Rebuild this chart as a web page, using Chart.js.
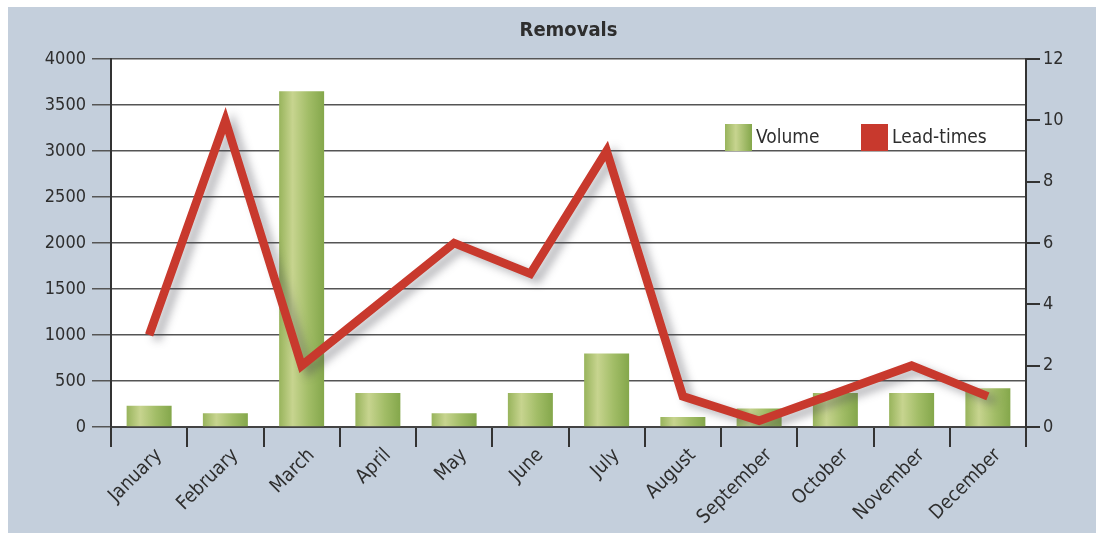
<!DOCTYPE html>
<html>
<head>
<meta charset="utf-8">
<script src="https://cdn.jsdelivr.net/npm/chart.js@4.4.1/dist/chart.umd.min.js"></script>
<style>
  html, body { margin: 0; padding: 0; background: #fff; }
  #wrap { position: absolute; left: 8px; top: 7px; width: 1088px; height: 526px; background: #c4cfdc; }
</style>
</head>
<body>
<div id="wrap"><canvas id="removals" width="1088" height="526"></canvas></div>
<script>
const months = ['January', 'February', 'March', 'April', 'May', 'June', 'July', 'August', 'September', 'October', 'November', 'December'];
const volume = [230, 150, 3650, 370, 150, 370, 800, 110, 200, 370, 370, 420];
const leadTimes = [3, 10, 2, 4, 6, 5, 9, 1, 0.2, 1.1, 2, 1];

const FONT = "'DejaVu Sans Condensed', 'Liberation Sans', sans-serif";
const TXT = '#2e2e2e';
const RED = '#c8392d';

// green cylinder-ish gradient per bar
const barFill = (c) => {
    const chart = c.chart;
    const x = chart.scales.x;
    if (!chart.chartArea || !x || c.dataIndex === undefined) return '#a9c06c';
    const cx = x.getPixelForValue(c.dataIndex);
    const w = x.width / months.length * 0.59;
    const g = chart.ctx.createLinearGradient(cx - w / 2, 0, cx + w / 2, 0);
    g.addColorStop(0, '#98b45c');
    g.addColorStop(0.3, '#c7d48f');
    g.addColorStop(0.65, '#a2bd67');
    g.addColorStop(1, '#84a74b');
    return g;
};

const plotBg = {
    id: 'plotBg',
    beforeDraw(chart) {
        const { ctx, chartArea: a } = chart;
        ctx.save();
        ctx.fillStyle = '#fff';
        ctx.fillRect(a.left, a.top, a.right - a.left, a.bottom - a.top);
        ctx.restore();
    }
};

const lineShadow = {
    id: 'lineShadow',
    beforeDatasetDraw(chart, args) {
        if (args.index !== 1) return;
        const ctx = chart.ctx;
        ctx.save();
        ctx.shadowColor = 'rgba(70,70,80,0.4)';
        ctx.shadowBlur = 8;
        ctx.shadowOffsetX = 7;
        ctx.shadowOffsetY = 5;
    },
    afterDatasetDraw(chart, args) {
        if (args.index !== 1) return;
        chart.ctx.restore();
    }
};

// legend drawn inside the plot, top right
const innerLegend = {
    id: 'innerLegend',
    afterDraw(chart) {
        const { ctx, chartArea: a } = chart;
        const items = [
            { text: chart.data.datasets[0].label, fill: '#a9c06c', x: a.right - 301 },
            { text: chart.data.datasets[1].label, fill: RED, x: a.right - 165 }
        ];
        const y = a.top + 65;
        ctx.save();
        ctx.font = '19px ' + FONT;
        ctx.textBaseline = 'middle';
        items.forEach((it, i) => {
            if (i === 0) {
                const g = ctx.createLinearGradient(it.x, 0, it.x + 27, 0);
                g.addColorStop(0, '#98b45c');
                g.addColorStop(0.4, '#c7d48f');
                g.addColorStop(1, '#84a74b');
                ctx.fillStyle = g;
            } else {
                ctx.fillStyle = it.fill;
            }
            ctx.fillRect(it.x, y, 27, 27);
            ctx.fillStyle = TXT;
            ctx.fillText(it.text, it.x + 31, y + 14);
        });
        ctx.restore();
    }
};

new Chart(document.getElementById('removals'), {
    data: {
        labels: months,
        datasets: [
            {
                type: 'bar',
                label: 'Volume',
                data: volume,
                yAxisID: 'y',
                backgroundColor: barFill,
                barPercentage: 0.59,
                categoryPercentage: 1,
                order: 2
            },
            {
                type: 'line',
                label: 'Lead-times',
                data: leadTimes,
                yAxisID: 'y1',
                borderColor: RED,
                borderWidth: 8.5,
                pointRadius: 0,
                tension: 0,
                borderJoinStyle: 'miter',
                order: 1
            }
        ]
    },
    options: {
        responsive: false,
        animation: false,
        layout: { padding: { left: 33, right: 0, top: 0, bottom: 0 } },
        plugins: {
            legend: { display: false },
            tooltip: { enabled: false },
            title: {
                display: true,
                text: 'Removals',
                color: TXT,
                font: { family: FONT, size: 20, weight: 'bold' },
                padding: { top: 12, bottom: 16 }
            }
        },
        scales: {
            x: {
                grid: { offset: true, drawOnChartArea: false, tickLength: 20, color: '#333', lineWidth: 2 },
                border: { color: '#444', width: 2 },
                ticks: {
                    color: TXT,
                    font: { family: FONT, size: 19.5 },
                    minRotation: 45,
                    maxRotation: 45,
                    labelOffset: 10,
                    padding: -3,
                    autoSkip: false
                },
                afterFit(s) { s.height = 106; }
            },
            y: {
                position: 'left',
                min: 0,
                max: 4000,
                ticks: { stepSize: 500, color: TXT, font: { family: FONT, size: 18 }, padding: 6, callback: (v) => String(v) },
                grid: { color: '#555', lineWidth: 1.5, tickLength: 19 },
                border: { color: '#333', width: 2 },
                afterFit(s) { s.width = 70; }
            },
            y1: {
                position: 'right',
                min: 0,
                max: 12,
                ticks: { stepSize: 2, color: TXT, font: { family: FONT, size: 18 }, padding: 3, callback: (v) => String(v) },
                grid: { drawOnChartArea: false, color: '#333', lineWidth: 2, tickLength: 14 },
                border: { color: '#333', width: 2 },
                afterFit(s) { s.width = 70; }
            }
        }
    },
    plugins: [plotBg, lineShadow, innerLegend]
});
</script>
</body>
</html>
